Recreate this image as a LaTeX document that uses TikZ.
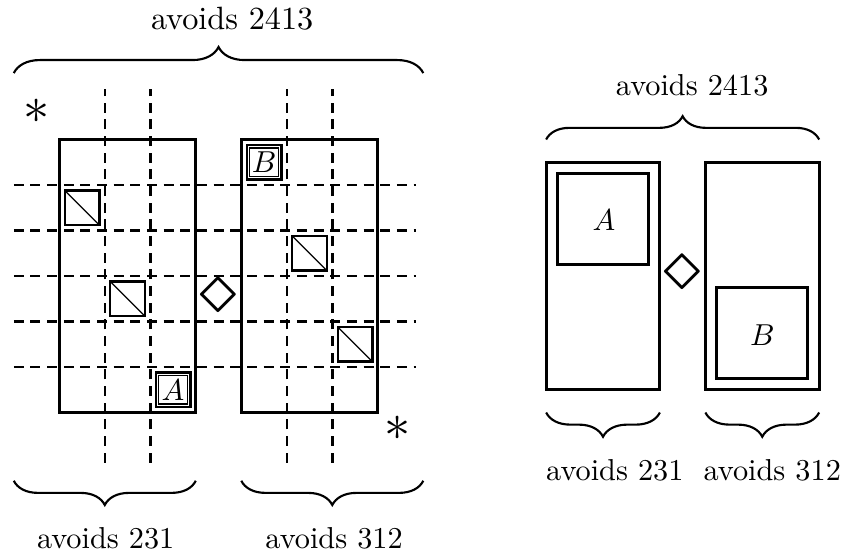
\documentclass[tikz,border=0pt]{standalone}
\usepackage{amssymb}
\usetikzlibrary{decorations.pathreplacing,positioning}

\begin{document}
\begin{tikzpicture}[
  x=0.528cm, y=0.528cm,
  frame/.style={line width=1pt},
  gridline/.style={line width=0.8pt,dash pattern=on 3.3pt off 2.2pt},
  cell/.style={line width=0.8pt},
  diag/.style={line width=0.4pt},
  brc/.style={decorate,decoration={brace,amplitude=#1},line width=0.7pt},
  brc/.default=8pt,
  lbl/.style={inner sep=0pt}
]
  \useasboundingbox (-1.303,-3.132) rectangle (17.334,9.066);

  % left picture: the two blocks and the grid
  \foreach \y in {1,...,5}
    \draw[gridline] (-1,\y) -- (7.85,\y);
  \foreach \x in {1,2,5,6}
    \draw[gridline] (\x,-1.1) -- (\x,7.1);
  \draw[frame] (0,0) rectangle (3,6);
  \draw[frame] (4,0) rectangle (7,6);

  % single points
  \foreach \x/\y in {0/4,1/2,5/3,6/1} {
    \draw[cell] (\x+0.12,\y+0.12) rectangle (\x+0.88,\y+0.88);
    \draw[diag] (\x+0.12,\y+0.88) -- (\x+0.88,\y+0.12);
  }
  % the blocks A and B
  \foreach \x/\y/\t in {2/0/A,4/5/B} {
    \draw[cell] (\x+0.12,\y+0.12) rectangle (\x+0.88,\y+0.88);
    \node[draw,line width=0.4pt,inner sep=0pt,minimum size=0.33cm] (sq\t) at (\x+0.5,\y+0.5) {$\t$};
  }

  \node (sum) at (3.5,2.55) {\Huge$\diamond$};
  \node (star1) at (-0.5,6.63) {\LARGE$\ast$};
  \node (star2) at (7.44,-0.34) {\LARGE$\ast$};

  \draw[brc=8.6pt] (-1,7.46) -- (8,7.46);
  \node[lbl,scale=1.065] (top) at (3.8,8.65) {avoids 2413};
  \draw[brc] (3,-1.5) -- (-1,-1.5);
  \draw[brc] (8,-1.5) -- (4,-1.5);
  \node[lbl] (botL) at (1.02,-2.76) {avoids 231};
  \node[lbl] (botR) at (6.04,-2.76) {avoids 312};

  % right picture
  \begin{scope}[shift={(10.7,0.5)}]
    \draw[frame] (0,0) rectangle (2.5,5);
    \draw[frame] (3.5,0) rectangle (6,5);
    \draw[frame] (0.25,2.75) rectangle (2.25,4.75);
    \draw[frame] (3.75,0.25) rectangle (5.75,2.25);
    \node (bigA) at (1.27,3.72) {$A$};
    \node (bigB) at (4.75,1.2) {$B$};
    \node (sum2) at (3,2.55) {\Huge$\diamond$};

    \draw[brc=7.7pt] (0,5.5) -- (6,5.5);
    \node[lbl] (top2) at (3.21,6.68) {avoids 2413};
    \draw[brc] (2.5,-0.5) -- (0,-0.5);
    \draw[brc] (6,-0.5) -- (3.5,-0.5);
    \node[lbl] (botL2) at (1.51,-1.77) {avoids 231};
    \node[lbl] (botR2) at (4.97,-1.77) {avoids 312};
  \end{scope}
\end{tikzpicture}
\end{document}
